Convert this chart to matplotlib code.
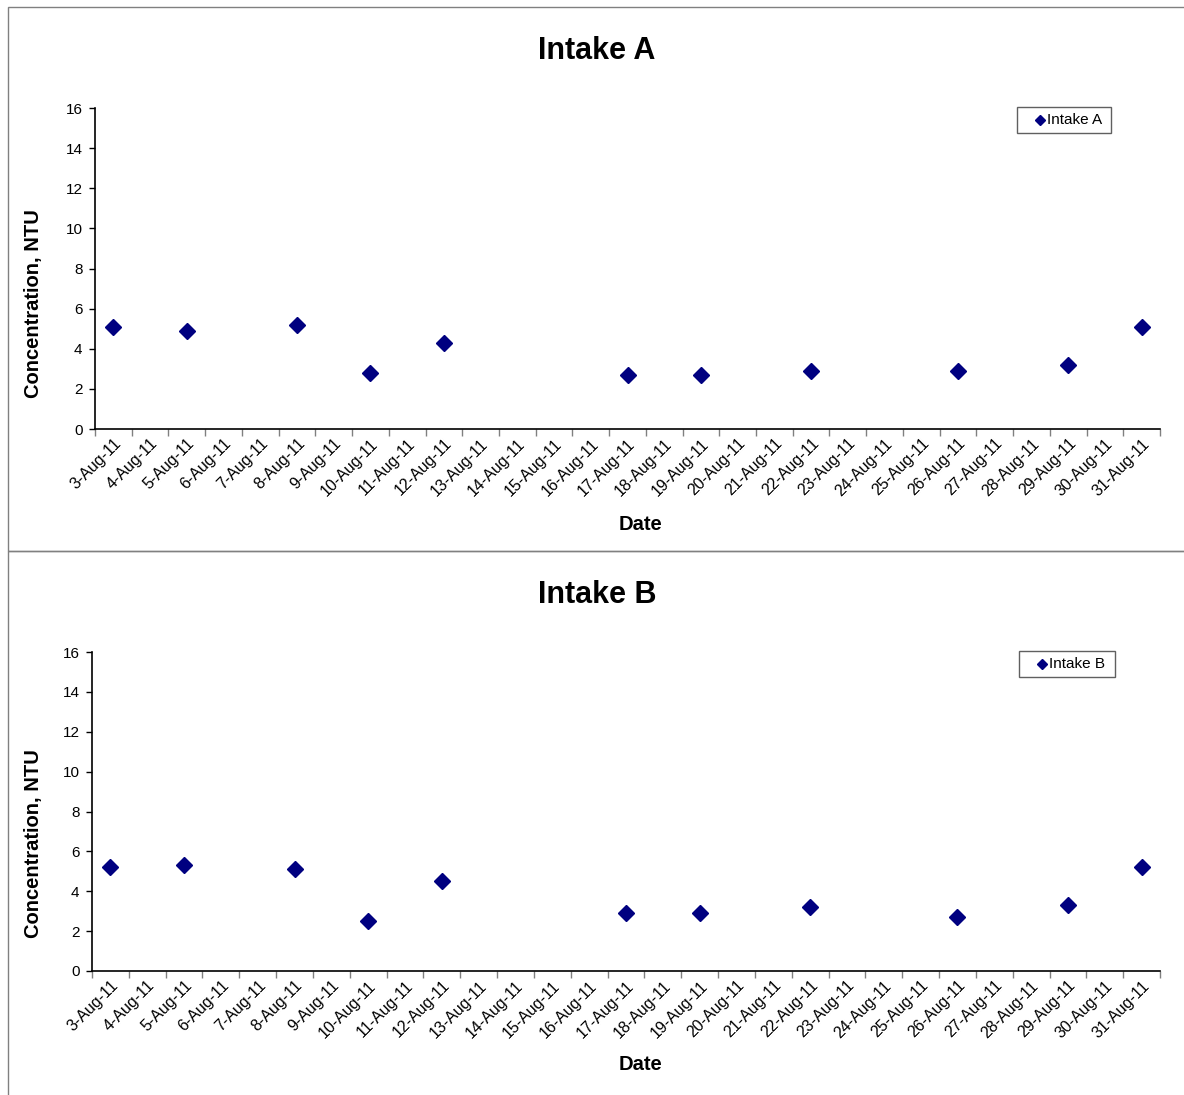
import numpy as np
import matplotlib
matplotlib.use('Agg')
import matplotlib.pyplot as plt
from matplotlib.lines import Line2D
from matplotlib.patches import Rectangle

plt.rcParams['font.family'] = ['Liberation Sans', 'DejaVu Sans']

# Data: days of August 2011 on the axis, and sampled values
days = list(range(3, 32))
day_labels = [f'{d}-Aug-11' for d in days]
sample_days = [3, 5, 8, 10, 12, 17, 19, 22, 26, 29, 31]
intake_a = [5.1, 4.9, 5.2, 2.8, 4.3, 2.7, 2.7, 2.9, 2.9, 3.2, 5.1]
intake_b = [5.2, 5.3, 5.1, 2.5, 4.5, 2.9, 2.9, 3.2, 2.7, 3.3, 5.2]

W, H = 1184, 1095
fig = plt.figure(figsize=(W / 100, H / 100), dpi=100)

# chart frames (like the Excel chart areas)
fig.patches.append(Rectangle((8 / W, 1 - 551 / H), 1.2, (551 - 7) / H,
                             transform=fig.transFigure, fill=False,
                             edgecolor='#808080', linewidth=1))
fig.patches.append(Rectangle((8 / W, -0.1), 1.2, 0.1 + 1 - 551 / H,
                             transform=fig.transFigure, fill=False,
                             edgecolor='#808080', linewidth=1))


def draw_panel(rect, values, name, title_y, date_y, ylab_y, legend_px):
    ax = fig.add_axes(rect)
    xs = [days.index(d) + 0.5 for d in sample_days]
    ax.plot(xs, values, linestyle='none', marker='D', markersize=8.5,
            color='#000080', label=name)
    ax.set_xlim(0, len(days))
    ax.set_ylim(0, 16)
    ax.set_yticks(np.arange(0, 17, 2))
    ax.set_xticks(np.arange(0, len(days) + 1))
    ax.set_xticklabels([])
    ax.set_xticks(np.arange(len(days)) + 0.5, minor=True)
    ax.set_xticklabels(day_labels, minor=True, rotation=45, ha='right',
                       rotation_mode='anchor', fontsize=11.5)
    ax.tick_params(axis='x', which='minor', length=0, pad=5)
    ax.tick_params(axis='x', which='major', length=5, color='#808080', width=1)
    ax.tick_params(axis='y', length=4, labelsize=11, width=1, pad=5)
    for s in ['top', 'right']:
        ax.spines[s].set_visible(False)
    for s in ['left', 'bottom']:
        ax.spines[s].set_linewidth(1.2)
    fig.text(597 / W, 1 - title_y / H, name, ha='center', va='center',
             fontsize=22, fontweight='bold')
    fig.text(640 / W, 1 - date_y / H, 'Date', ha='center', va='center',
             fontsize=14.5, fontweight='bold')
    fig.text(34 / W, 1 - ylab_y / H, 'Concentration, NTU', ha='center',
             va='center', rotation=90, fontsize=14.5, fontweight='bold')

    # legend box drawn like Excel's: wide frame with marker and name
    lx0, ly0, lx1, ly1 = legend_px
    fig.patches.append(Rectangle((lx0 / W, 1 - ly1 / H), (lx1 - lx0) / W,
                                 (ly1 - ly0) / H, transform=fig.transFigure,
                                 fill=True, facecolor='white',
                                 edgecolor='#606060', linewidth=1))
    ymid = 1 - (ly0 + ly1) / 2 / H
    fig.lines.append(Line2D([(lx0 + 23) / W], [ymid], linestyle='none',
                            marker='D', markersize=5.5, color='#000080',
                            transform=fig.transFigure))
    fig.text((lx0 + 30) / W, ymid, name, ha='left', va='center',
             fontsize=11)
    return ax


draw_panel([95 / W, 1 - 429 / H, 1065 / W, 321 / H], intake_a, 'Intake A',
           51, 524, 304, (1017, 107, 1111, 133))
draw_panel([92 / W, 1 - 971 / H, 1068 / W, 319 / H], intake_b, 'Intake B',
           595, 1065, 844, (1019, 651, 1115, 677))

fig.savefig('out.png', dpi=100)
